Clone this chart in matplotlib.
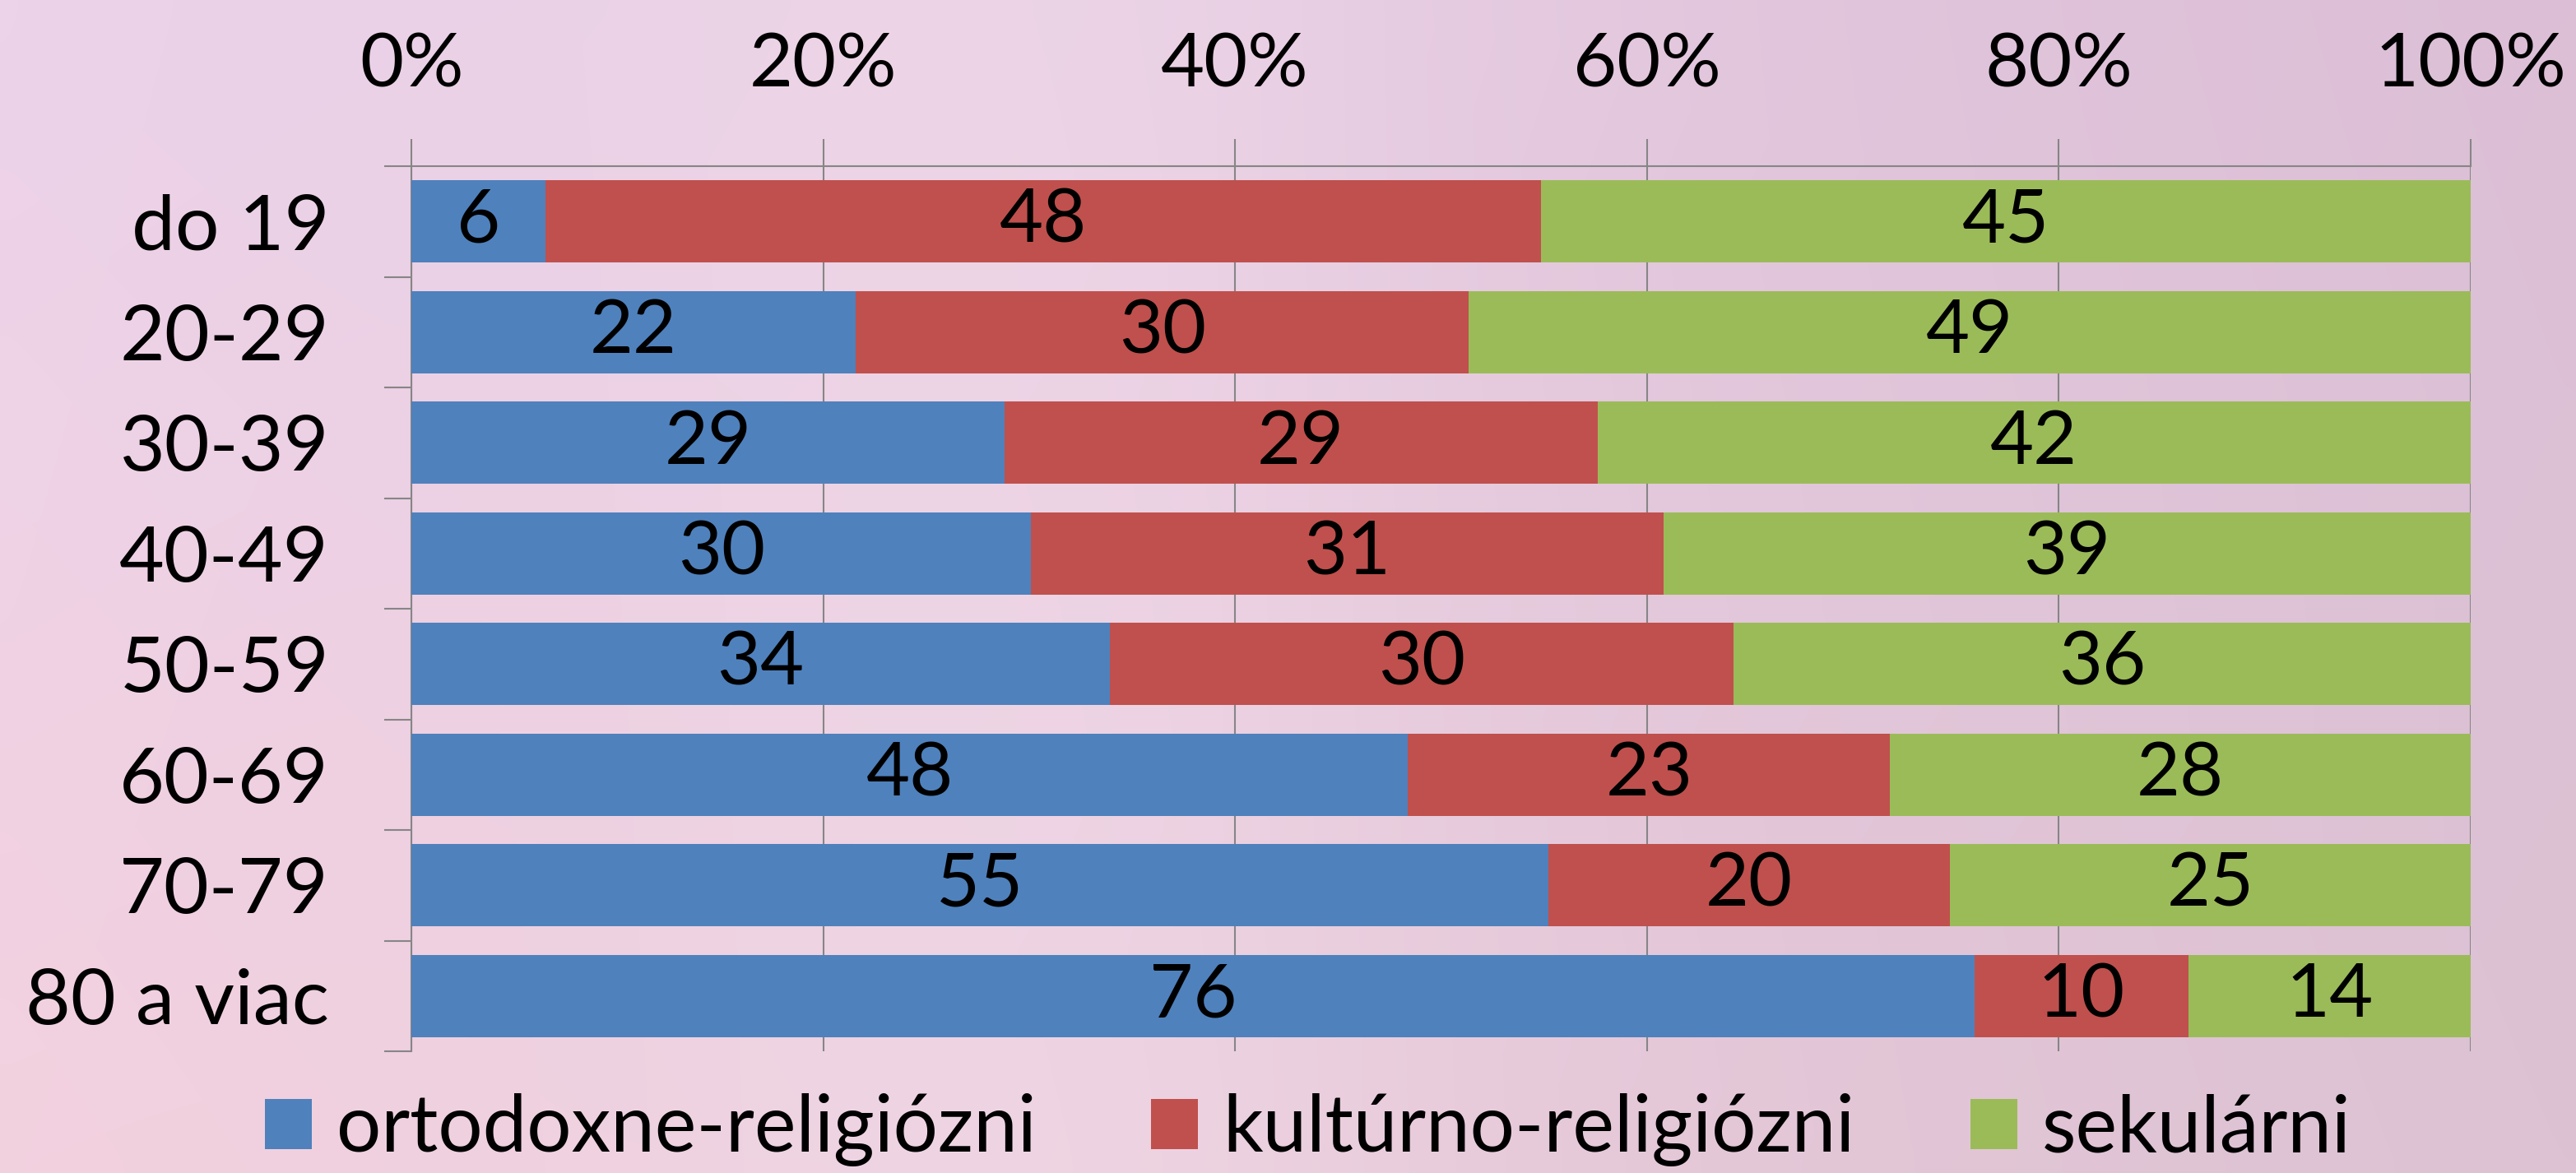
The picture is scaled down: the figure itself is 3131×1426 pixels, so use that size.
import numpy as np
import matplotlib
matplotlib.use("Agg")
import matplotlib.pyplot as plt
from matplotlib.patches import Patch
from matplotlib.colors import to_rgb

plt.rcParams['font.family'] = ['Lato', 'DejaVu Sans']

categories = ["do 19", "20-29", "30-39", "40-49", "50-59", "60-69", "70-79", "80 a viac"]
# segment shares (%)
ortodoxne = [6.5, 21.6, 28.8, 30.1, 33.9, 48.4, 55.2, 75.9]
kulturno = [48.4, 29.8, 28.8, 30.7, 30.3, 23.4, 19.5, 10.4]
sekularni = [45.2, 48.7, 42.4, 39.2, 35.8, 28.2, 25.3, 13.7]
# printed data labels
ortodoxne_labels = ["6", "22", "29", "30", "34", "48", "55", "76"]
kulturno_labels = ["48", "30", "29", "31", "30", "23", "20", "10"]
sekularni_labels = ["45", "49", "42", "39", "36", "28", "25", "14"]
series_names = ["ortodoxne-religiózni", "kultúrno-religiózni", "sekulárni"]
x_ticks = [0, 20, 40, 60, 80, 100]
x_ticklabels = ["0%", "20%", "40%", "60%", "80%", "100%"]

colors = ["#4F81BD", "#C0504D", "#9BBB59"]
grid_c = "#868686"
FS = 66

W, H = 3131, 1426
fig = plt.figure(figsize=(W / 100, H / 100), dpi=100)

# background gradient
bg = fig.add_axes([0, 0, 1, 1], zorder=-10)
ny, nx = 60, 120
xx = np.linspace(0, 1, nx)[None, :]
yy = np.linspace(0, 1, ny)[:, None]
TL, TR = np.array(to_rgb("#ecd3ea")), np.array(to_rgb("#dcbfd6"))
BL, BR = np.array(to_rgb("#f3d1df")), np.array(to_rgb("#dcc2d3"))
img = ((1 - xx)[..., None] * (1 - yy)[..., None] * TL + xx[..., None] * (1 - yy)[..., None] * TR
       + (1 - xx)[..., None] * yy[..., None] * BL + xx[..., None] * yy[..., None] * BR)
band = np.exp(-((xx - 0.38) / 0.18) ** 2)[..., None]
img = img * (1 - 0.45 * band) + np.array(to_rgb("#f4dfec")) * 0.45 * band
bg.imshow(np.clip(img, 0, 1), aspect="auto", extent=[0, 1, 0, 1], interpolation="bicubic")
bg.axis("off")

left, right = 500 / W, 3003 / W
top, bottom = 1 - 202 / H, 1 - 1278 / H
ax = fig.add_axes([left, bottom, right - left, top - bottom])
ax.patch.set_alpha(0)

y = np.arange(len(categories))
o = np.array(ortodoxne, float)
k = np.array(kulturno, float)
s = np.array(sekularni, float)
tot = o + k + s
po, pk, ps = o / tot * 100, k / tot * 100, s / tot * 100

bh = 0.745
b1 = ax.barh(y, po, height=bh, color=colors[0], zorder=3)
b2 = ax.barh(y, pk, left=po, height=bh, color=colors[1], zorder=3)
b3 = ax.barh(y, ps, left=po + pk, height=bh, color=colors[2], zorder=3)
for bars, labs in zip([b1, b2, b3], [ortodoxne_labels, kulturno_labels, sekularni_labels]):
    ax.bar_label(bars, labels=labs, label_type="center",
                 fontsize=FS, color="black", zorder=5)

ax.set_xlim(0, 100)
ax.set_ylim(len(categories) - 0.5, -0.5)
ax.xaxis.tick_top()
ax.set_xticks(x_ticks)
ax.set_xticklabels(x_ticklabels, fontsize=FS)
ax.tick_params(axis="x", which="major", direction="out", length=24, width=1.5,
               color=grid_c, pad=34)
ax.set_yticks(y)
ax.set_yticklabels(categories, fontsize=68)
ax.set_yticks(np.arange(-0.5, len(categories)), minor=True)
ax.tick_params(axis="y", which="major", length=0, pad=72)
ax.tick_params(axis="y", which="minor", direction="out", length=24, width=1.5, color=grid_c)
ax.grid(axis="x", color=grid_c, linewidth=1.5, zorder=0)
ax.set_axisbelow(True)
for sp in ["right", "bottom"]:
    ax.spines[sp].set_visible(False)
for sp in ["top", "left"]:
    ax.spines[sp].set_color(grid_c)
    ax.spines[sp].set_linewidth(1.5)

LFS = 69
handles = [Patch(facecolor=c, edgecolor="none") for c in colors]
fpx = LFS * 100 / 72
fig.legend(handles, series_names, loc="center", bbox_to_anchor=(0.5077, 1 - 1374 / H),
           ncol=3, frameon=False, fontsize=LFS, handlelength=57 / fpx, handleheight=57 / fpx,
           handletextpad=30 / fpx, columnspacing=140 / fpx, borderpad=0, borderaxespad=0)

fig.savefig("out.png", dpi=100)
